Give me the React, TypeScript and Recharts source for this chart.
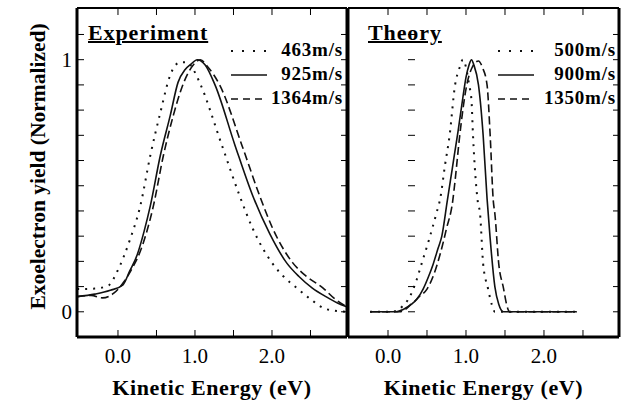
import { LineChart, Line, XAxis, YAxis } from 'recharts'

// Experiment panel (energy in eV, normalized yield)
const exp463E = [-0.53, -0.3, -0.12, -0.01, 0.16, 0.29, 0.42, 0.55, 0.68, 0.81, 0.9, 0.98, 1.06, 1.35, 1.58, 1.75, 2.01, 2.15, 2.32, 2.5, 2.71, 2.97]
const exp463Y = [0.09, 0.092, 0.105, 0.16, 0.29, 0.42, 0.62, 0.79, 0.94, 0.99, 0.99, 0.96, 0.91, 0.66, 0.46, 0.33, 0.19, 0.14, 0.095, 0.05, 0.01, 0.0]

const exp925E = [-0.53, -0.3, -0.1, 0.065, 0.15, 0.25, 0.34, 0.42, 0.55, 0.68, 0.78, 0.87, 0.94, 1.03, 1.13, 1.26, 1.52, 1.75, 1.97, 2.19, 2.35, 2.52, 2.7, 2.85, 2.97]
const exp925Y = [0.06, 0.07, 0.085, 0.107, 0.16, 0.226, 0.32, 0.42, 0.62, 0.78, 0.91, 0.96, 0.98, 1.0, 0.98, 0.9, 0.66, 0.46, 0.31, 0.194, 0.14, 0.095, 0.06, 0.035, 0.02]

const exp1364E = [-0.53, -0.35, -0.2, -0.05, 0.08, 0.18, 0.29, 0.46, 0.59, 0.72, 0.83, 0.98, 1.07, 1.17, 1.32, 1.61, 1.84, 2.01, 2.27, 2.45, 2.66, 2.82, 2.97]
const exp1364Y = [0.06, 0.065, 0.055, 0.075, 0.12, 0.17, 0.24, 0.42, 0.62, 0.78, 0.89, 0.98, 1.0, 0.97, 0.9, 0.66, 0.46, 0.33, 0.194, 0.14, 0.095, 0.05, 0.02]

// Theory panel
const th500E = [-0.23, 0.05, 0.18, 0.28, 0.36, 0.43, 0.52, 0.62, 0.67, 0.73, 0.79, 0.86, 0.92, 0.96, 1.0, 1.04, 1.07, 1.09, 1.15, 1.18, 1.22, 1.28, 1.33, 1.37, 2.42]
const th500Y = [0, 0, 0.02, 0.06, 0.12, 0.19, 0.28, 0.39, 0.45, 0.58, 0.7, 0.9, 0.97, 1.0, 0.97, 0.9, 0.84, 0.7, 0.44, 0.39, 0.19, 0.095, 0.03, 0, 0]

const th900E = [-0.23, 0.1, 0.2, 0.3, 0.37, 0.45, 0.52, 0.58, 0.64, 0.69, 0.76, 0.8, 0.85, 0.9, 0.96, 1.0, 1.04, 1.07, 1.1, 1.16, 1.22, 1.27, 1.31, 1.37, 1.42, 1.48, 2.42]
const th900Y = [0, 0, 0.01, 0.03, 0.05, 0.09, 0.14, 0.19, 0.25, 0.3, 0.44, 0.52, 0.62, 0.72, 0.85, 0.93, 0.98, 1.0, 0.98, 0.9, 0.7, 0.45, 0.29, 0.1, 0.03, 0, 0]

const th1350E = [-0.23, 0.15, 0.3, 0.4, 0.5, 0.59, 0.67, 0.75, 0.83, 0.86, 0.92, 1.01, 1.08, 1.16, 1.21, 1.27, 1.31, 1.35, 1.37, 1.42, 1.48, 1.52, 1.56, 2.42]
const th1350Y = [0, 0, 0.03, 0.06, 0.09, 0.15, 0.23, 0.33, 0.44, 0.52, 0.7, 0.9, 0.97, 0.995, 0.97, 0.9, 0.7, 0.44, 0.39, 0.19, 0.095, 0.03, 0, 0]

const xLabelTicks = [0, 1, 2]
const xMinorTicks = [0, 0.5, 1, 1.5, 2, 2.5]
const yLabelTicks = [0, 1]
const yMinorTicks = [0, 0.1, 0.2, 0.3, 0.4, 0.5, 0.6, 0.7, 0.8, 0.9, 1.0, 1.1]

const expLegend = ['463m/s', '925m/s', '1364m/s']
const thLegend = ['500m/s', '900m/s', '1350m/s']
const dashes = ['2 6', undefined, '8 4']
const legendDashes = ['2 9', undefined, '7 5']

const toRows = (e: number[], y: number[]) => e.map((v, i) => ({ e: v, y: y[i] }))

const expSeries = [toRows(exp463E, exp463Y), toRows(exp925E, exp925Y), toRows(exp1364E, exp1364Y)]
const thSeries = [toRows(th500E, th500Y), toRows(th900E, th900Y), toRows(th1350E, th1350Y)]

const serif = '"Liberation Serif", "Times New Roman", serif'
const Y_DOMAIN: [number, number] = [-0.1, 1.205]

// tick marks only, no label
const NoLabel = () => <g />

function Panel({ series, xDomain, showY, width, margin }: {
  series: { e: number; y: number }[][]
  xDomain: [number, number]
  showY: boolean
  width: number
  margin: { top: number; right: number; left: number; bottom: number }
}) {
  return (
    <LineChart width={width} height={403} margin={margin}>
      <XAxis
        xAxisId="b"
        type="number"
        dataKey="e"
        domain={xDomain}
        allowDataOverflow
        ticks={xLabelTicks}
        tickFormatter={(v: number) => v.toFixed(1)}
        tickLine={false}
        tickSize={6}
        tickMargin={5}
        height={66}
        axisLine={{ stroke: '#000', strokeWidth: 3 }}
        tick={{ fill: '#000', fontSize: 21, fontFamily: serif }}
        label={{ value: 'Kinetic Energy (eV)', position: 'insideBottom', offset: 8, style: { fill: '#000', fontSize: 22, letterSpacing: 0.6, fontWeight: 'bold', fontFamily: serif } }}
      />
      <XAxis xAxisId="bm" type="number" dataKey="e" domain={xDomain} allowDataOverflow ticks={xMinorTicks} mirror tick={NoLabel} axisLine={false} tickSize={7} tickLine={{ stroke: '#000' }} />
      <XAxis xAxisId="t" orientation="top" type="number" dataKey="e" domain={xDomain} allowDataOverflow ticks={xMinorTicks} mirror tick={NoLabel} axisLine={{ stroke: '#000', strokeWidth: 2 }} tickSize={7} tickLine={{ stroke: '#000' }} />
      {showY ? (
        <YAxis
          yAxisId="l"
          type="number"
          domain={Y_DOMAIN}
          allowDataOverflow
          ticks={yLabelTicks}
          width={77}
          tickLine={false}
          tickSize={3}
          tickMargin={2}
          axisLine={{ stroke: '#000', strokeWidth: 3 }}
          tick={{ fill: '#000', fontSize: 21, fontFamily: serif }}
          label={{ value: 'Exoelectron yield (Normalized)', angle: -90, position: 'insideLeft', offset: 37, dy: -6, style: { textAnchor: 'middle', fill: '#000', fontSize: 21.5, fontWeight: 'bold', fontFamily: serif } }}
        />
      ) : (
        <YAxis yAxisId="l" type="number" domain={Y_DOMAIN} allowDataOverflow mirror tick={NoLabel} tickLine={false} axisLine={{ stroke: '#000', strokeWidth: 3 }} />
      )}
      <YAxis yAxisId="lm" type="number" domain={Y_DOMAIN} allowDataOverflow ticks={yMinorTicks} mirror tick={NoLabel} axisLine={false} tickSize={7} tickLine={{ stroke: '#000' }} />
      <YAxis yAxisId="rm" orientation="right" type="number" domain={Y_DOMAIN} allowDataOverflow ticks={yMinorTicks} mirror tick={NoLabel} axisLine={{ stroke: '#000', strokeWidth: 3 }} tickSize={6} tickLine={{ stroke: '#000' }} />
      {/* invisible series so the frame axes get a scale */}
      <Line xAxisId="bm" yAxisId="lm" data={series[1]} dataKey="y" stroke="none" dot={false} activeDot={false} legendType="none" isAnimationActive={false} />
      <Line xAxisId="t" yAxisId="rm" data={series[1]} dataKey="y" stroke="none" dot={false} activeDot={false} legendType="none" isAnimationActive={false} />
      {series.map((d, i) => (
        <Line
          key={i}
          xAxisId="b"
          yAxisId="l"
          data={d}
          dataKey="y"
          type="monotone"
          stroke="#111"
          strokeWidth={i === 0 ? 2 : 1.6}
          strokeDasharray={dashes[i]}
          dot={false}
          isAnimationActive={false}
        />
      ))}
    </LineChart>
  )
}

function LegendBox({ labels, left, right }: { labels: string[]; left: number; right: number }) {
  return (
    <div style={{ position: 'absolute', left, top: 38, width: right - left, fontFamily: serif, fontWeight: 'bold', fontSize: 19, letterSpacing: 0.8 }}>
      {labels.map((t, i) => (
        <div key={t} style={{ position: 'relative', height: 24, lineHeight: '24px', textAlign: 'right' }}>
          <svg width={38} height={24} style={{ position: 'absolute', left: 0, top: 0 }}>
            <line x1={1} y1={13} x2={37} y2={13} stroke="#111" strokeWidth={i === 0 ? 2.2 : 1.6} strokeDasharray={legendDashes[i]} />
          </svg>
          <span>{t}</span>
        </div>
      ))}
    </div>
  )
}

const titleStyle = { position: 'absolute' as const, top: 22, fontFamily: serif, fontWeight: 'bold', fontSize: 22, letterSpacing: 0.9, lineHeight: 1, textDecoration: 'underline', textDecorationThickness: 2 }

export default function App() {
  return (
    <div style={{ position: 'absolute', left: 0, top: 0, width: 622, height: 403, background: '#fff', overflow: 'hidden' }}>
      <div style={{ position: 'absolute', left: 0, top: 0 }}>
        <Panel series={expSeries} xDomain={[-0.532, 2.974]} showY width={350} margin={{ top: 8, right: 3, left: 0, bottom: 0 }} />
      </div>
      <div style={{ position: 'absolute', left: 347, top: 0 }}>
        <Panel series={thSeries} xDomain={[-0.513, 2.962]} showY={false} width={275} margin={{ top: 8, right: 3, left: 1, bottom: 0 }} />
      </div>
      <div style={{ ...titleStyle, left: 88 }}>Experiment</div>
      <div style={{ ...titleStyle, left: 368 }}>Theory</div>
      <LegendBox labels={expLegend} left={230} right={343} />
      <LegendBox labels={thLegend} left={497} right={616} />
    </div>
  )
}
